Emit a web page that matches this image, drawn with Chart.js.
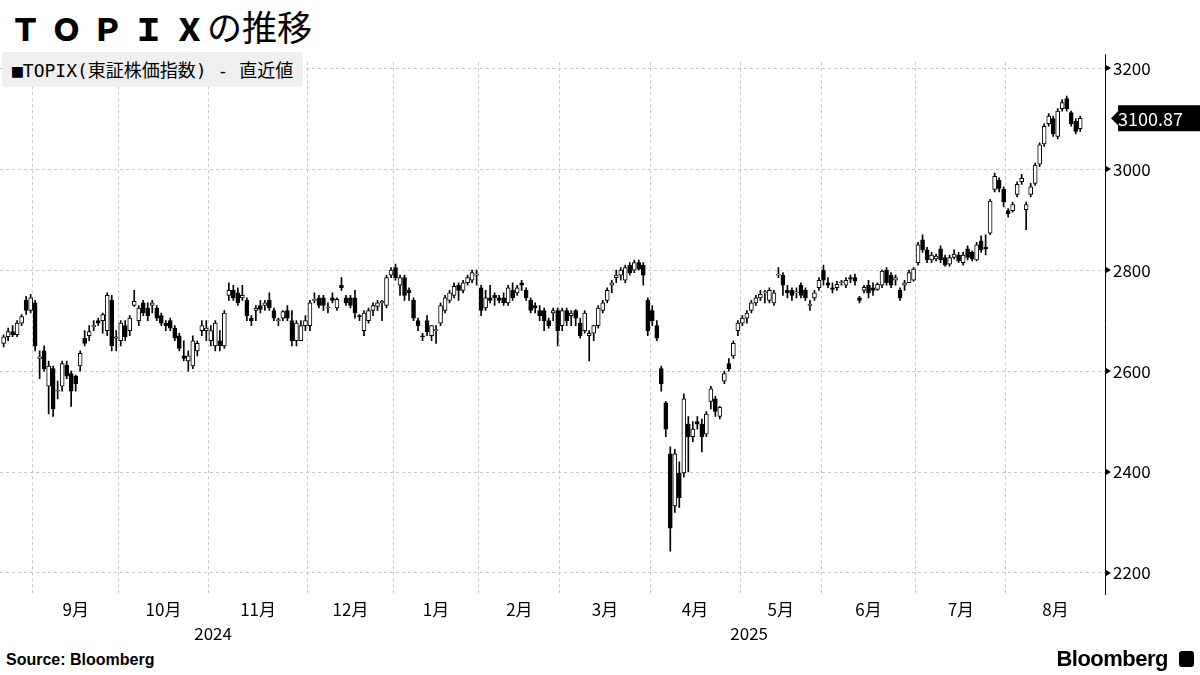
<!DOCTYPE html>
<html><head><meta charset="utf-8">
<script src="https://cdn.jsdelivr.net/npm/chart.js@4"></script>
<style>
body{margin:0;width:1200px;height:675px;background:#fff;font-family:"Noto Sans CJK JP","Noto Sans",sans-serif;overflow:hidden;position:relative}
#title{position:absolute;left:10px;top:0px;font-size:35px;color:#000;white-space:nowrap}
#title b{font-family:"DejaVu Sans","Noto Sans CJK JP";font-weight:900;letter-spacing:10px;font-size:31px}
#title span{font-weight:400;letter-spacing:0px;margin-left:-8px}
#legend{position:absolute;left:2px;top:52px;background:#efefef;border-radius:4px;padding:4px 10px 5px 10px;font-size:18px;color:#000;font-family:"DejaVu Sans Mono","Noto Sans CJK JP";}
#src{position:absolute;left:6px;top:651px;font-size:16px;font-weight:bold;font-family:"Liberation Sans",sans-serif}
#logo{position:absolute;right:32px;top:646px;font-size:22px;font-weight:bold;font-family:"Liberation Sans",sans-serif;letter-spacing:-0.5px}
#logoicon{position:absolute;right:6px;top:651px;width:15px;height:16px;background:#000;border-radius:3px}
#c{position:absolute;left:0;top:44px}
</style></head><body>
<div id="title"><b>ＴＯＰＩＸ</b><span>の推移</span></div>
<canvas id="c" width="1200" height="606"></canvas>
<div id="legend">■TOPIX(東証株価指数) - 直近値</div>
<div id="src">Source:  Bloomberg</div>
<div id="logo">Bloomberg</div><div id="logoicon"></div>
<script>
// [open, high, low, close] per trading day
const aug24=[[2655,2672,2648,2668],[2668,2685,2660,2678],[2678,2690,2668,2672],[2672,2700,2668,2695],[2695,2712,2690,2708],[2740,2748,2712,2720],[2720,2752,2715,2745]];
const sep24=[[2735,2740,2640,2650],[2625,2640,2585,2628],[2640,2650,2600,2605],[2570,2620,2515,2610],[2605,2610,2510,2525],[2560,2580,2545,2560],[2570,2620,2560,2615],[2612,2620,2585,2590],[2595,2600,2530,2560],[2590,2592,2560,2575],[2610,2640,2600,2635],[2665,2680,2650,2655],[2670,2690,2660,2678],[2688,2700,2680,2690],[2700,2705,2690,2695],[2700,2715,2675,2712],[2680,2755,2670,2750],[2740,2750,2640,2650],[2665,2680,2640,2668]];
const oct24=[[2660,2700,2650,2695],[2690,2700,2660,2668],[2680,2710,2670,2705],[2730,2760,2728,2738],[2700,2730,2690,2725],[2735,2740,2710,2715],[2725,2735,2700,2710],[2730,2740,2715,2735],[2725,2730,2700,2705],[2710,2715,2690,2695],[2695,2700,2680,2690],[2700,2705,2680,2685],[2685,2690,2660,2665],[2670,2675,2640,2645],[2630,2660,2620,2625],[2620,2640,2600,2630],[2610,2670,2605,2660],[2640,2660,2630,2655],[2680,2700,2670,2690],[2680,2700,2660,2685]];
const nov24=[[2660,2690,2650,2680],[2650,2700,2640,2695],[2660,2680,2640,2650],[2650,2720,2645,2715],[2750,2775,2740,2760],[2760,2770,2740,2745],[2755,2765,2730,2735],[2745,2770,2740,2750],[2740,2745,2700,2710],[2705,2710,2690,2700],[2720,2730,2700,2725],[2730,2740,2715,2722],[2730,2740,2720,2735],[2740,2755,2720,2725],[2720,2725,2700,2705],[2700,2705,2690,2702],[2705,2720,2700,2718],[2720,2730,2700,2705],[2700,2720,2650,2660],[2660,2700,2650,2695],[2660,2700,2660,2690],[2690,2710,2680,2700]];
const dec24=[[2690,2740,2680,2735],[2740,2755,2735,2740],[2745,2750,2725,2730],[2745,2750,2720,2730],[2725,2735,2715,2725],[2745,2755,2735,2740],[2725,2745,2720,2742],[2770,2785,2760,2765],[2745,2750,2730,2735],[2745,2750,2725,2730],[2745,2760,2705,2715],[2710,2712,2700,2708],[2680,2720,2670,2715],[2700,2725,2695,2720],[2720,2735,2710,2730],[2728,2740,2720,2735],[2735,2740,2700,2738],[2730,2790,2725,2785],[2790,2805,2785,2800]];
const jan25=[[2805,2812,2780,2785],[2770,2790,2750,2785],[2785,2790,2740,2750],[2760,2765,2740,2755],[2740,2745,2700,2705],[2700,2705,2680,2690],[2670,2675,2660,2668],[2700,2710,2670,2678],[2670,2690,2660,2690],[2680,2690,2655,2680],[2695,2735,2690,2730],[2720,2750,2715,2745],[2740,2760,2735,2755],[2750,2775,2745,2768],[2770,2775,2740,2760],[2760,2780,2755,2775],[2775,2790,2770,2785],[2780,2800,2775,2795],[2790,2800,2770,2790]];
const feb25=[[2765,2770,2710,2720],[2725,2760,2720,2745],[2745,2770,2735,2740],[2750,2755,2730,2745],[2745,2750,2735,2740],[2745,2755,2730,2735],[2735,2770,2730,2765],[2760,2775,2740,2745],[2755,2770,2750,2765],[2775,2780,2760,2770],[2760,2765,2740,2745],[2740,2745,2715,2720],[2730,2735,2715,2725],[2720,2730,2700,2710],[2720,2725,2680,2700],[2700,2705,2685,2690],[2715,2725,2700,2720],[2720,2725,2650,2680]];
const mar25=[[2690,2725,2680,2720],[2720,2725,2690,2700],[2710,2720,2690,2715],[2720,2722,2690,2705],[2695,2705,2665,2670],[2680,2720,2675,2715],[2670,2680,2620,2675],[2675,2690,2660,2690],[2690,2730,2685,2725],[2720,2740,2715,2735],[2740,2765,2735,2760],[2770,2780,2755,2775],[2785,2800,2775,2790],[2790,2805,2780,2800],[2780,2810,2775,2805],[2810,2815,2790,2795],[2800,2820,2795,2815],[2815,2820,2800,2802],[2810,2815,2770,2790],[2740,2745,2670,2680]];
const apr25=[[2720,2730,2690,2700],[2690,2700,2660,2665],[2605,2610,2560,2575],[2537,2540,2470,2485],[2436,2450,2243,2289],[2333,2445,2320,2436],[2398,2420,2330,2349],[2398,2555,2390,2545],[2495,2510,2400,2470],[2470,2500,2460,2485],[2500,2510,2485,2495],[2495,2505,2440,2470],[2475,2520,2470,2515],[2540,2570,2525,2565],[2545,2550,2510,2520],[2510,2530,2505,2528],[2580,2600,2575,2595],[2615,2625,2600,2605],[2630,2660,2625,2655],[2680,2700,2670,2695]];
const may25=[[2695,2710,2690,2705],[2705,2720,2695,2715],[2720,2740,2715,2735],[2735,2750,2730,2745],[2745,2760,2740,2752],[2755,2760,2735,2755],[2740,2765,2735,2760],[2735,2760,2730,2755],[2790,2805,2785,2790],[2790,2795,2750,2770],[2760,2770,2745,2755],[2760,2765,2740,2750],[2755,2765,2745,2755],[2770,2775,2745,2750],[2760,2765,2740,2745],[2730,2740,2720,2732],[2745,2760,2740,2755],[2765,2785,2760,2780]];
const jun25=[[2800,2810,2770,2780],[2775,2785,2765,2770],[2765,2775,2755,2762],[2765,2778,2760,2772],[2775,2780,2770,2775],[2770,2785,2765,2780],[2785,2790,2775,2782],[2785,2792,2770,2778],[2745,2748,2735,2740],[2760,2770,2755,2766],[2770,2780,2745,2755],[2765,2775,2750,2760],[2762,2775,2760,2772],[2770,2800,2765,2798],[2800,2805,2770,2775],[2790,2795,2765,2770],[2780,2790,2770,2785],[2760,2765,2740,2745],[2770,2780,2760,2775],[2775,2800,2775,2795],[2780,2805,2778,2802]];
const jul25=[[2815,2855,2810,2850],[2860,2870,2835,2840],[2840,2845,2815,2820],[2820,2835,2815,2830],[2822,2832,2818,2828],[2842,2848,2815,2820],[2825,2830,2808,2810],[2812,2830,2808,2825],[2825,2840,2822,2832],[2830,2835,2815,2818],[2815,2835,2810,2830],[2842,2848,2820,2825],[2835,2838,2818,2822],[2820,2855,2818,2850],[2858,2868,2835,2840],[2845,2870,2830,2842],[2873,2940,2870,2937],[2960,2992,2955,2986],[2978,2983,2955,2962],[2960,2965,2925,2935]];
const aug25=[[2918,2922,2905,2912],[2918,2935,2915,2930],[2950,2975,2945,2970],[2975,2990,2970,2982],[2920,2935,2880,2930],[2950,2972,2945,2965],[2972,3012,2968,3008],[3010,3052,3005,3048],[3050,3090,3045,3085],[3090,3110,3085,3105],[3100,3105,3065,3070],[3065,3120,3060,3115],[3120,3138,3115,3132],[3140,3145,3115,3120],[3112,3115,3085,3090],[3095,3100,3070,3075],[3080,3105,3075,3100.87]];
const months=[aug24,sep24,oct24,nov24,dec24,jan25,feb25,mar25,apr25,may25,jun25,jul25,aug25];
const monthLabels=["","9月","10月","11月","12月","1月","2月","3月","4月","5月","6月","7月","8月"];
const yTicks=[2200,2400,2600,2800,3000,3200];
const lastValue=3100.87;

const ohlc=months.flat();
const n=ohlc.length;
const starts=[];let acc=0;months.forEach(m=>{starts.push(acc);acc+=m.length;});
const xmax=n-1+5.5, xmin=-0.8;
const gridTicks=starts.slice(1).map(s=>s-0.5);
const ends=gridTicks.slice(1).concat([xmax]);
const labelTicks=gridTicks.map((g,i)=>(g+ends[i])/2);
const bodies=ohlc.map((d,i)=>({x:i,y:[d[0],d[3]]}));
const wicks=ohlc.map((d,i)=>({x:i,y:[d[2],d[1]]}));
const up=ohlc.map(d=>d[3]>=d[0]);

const extra={id:'extra',afterDraw(c){
 const ctx=c.ctx,x=c.scales.x,y=c.scales.y,a=c.chartArea;
 ctx.save();
 ctx.strokeStyle='#000';ctx.fillStyle='#000';ctx.lineWidth=1;ctx.setLineDash([]);
 ctx.beginPath();ctx.moveTo(a.right+0.5,a.top-8);ctx.lineTo(a.right+0.5,a.bottom);ctx.stroke();
 yTicks.forEach(v=>{const p=Math.round(y.getPixelForValue(v));
  ctx.beginPath();ctx.moveTo(a.right+1,p-3);ctx.lineTo(a.right+6,p);ctx.lineTo(a.right+1,p+3);ctx.closePath();ctx.fill();});
 ctx.font='17px "Noto Sans CJK JP"';ctx.textAlign='center';ctx.textBaseline='middle';
 const y1=(x.getPixelForValue(gridTicks[0])+x.getPixelForValue(gridTicks[4]))/2;
 const y2=(x.getPixelForValue(gridTicks[4])+x.getPixelForValue(xmax))/2;
 const yy=a.bottom+39;
 ctx.fillText('2024',y1,yy);ctx.fillText('2025',y2,yy);
 const py=y.getPixelForValue(lastValue),px=a.right+6;
 ctx.beginPath();ctx.moveTo(px,py);ctx.lineTo(px+7,py-7);ctx.lineTo(px+7,py+7);ctx.closePath();ctx.fill();
 ctx.fillRect(px+7,py-13,c.width-px-7,26);
 ctx.fillStyle='#fff';ctx.textAlign='left';ctx.font='18px "Noto Sans CJK JP"';
 ctx.fillText(lastValue.toFixed(2),px+7,py+1);
 ctx.restore();}};

new Chart(document.getElementById('c'),{
 type:'bar',
 data:{datasets:[
  {data:bodies,grouped:false,barThickness:4,backgroundColor:up.map(u=>u?'#fff':'#000'),borderColor:'#000',borderWidth:1,borderSkipped:false,minBarLength:1},
  {data:wicks,grouped:false,barThickness:1,backgroundColor:'#000',borderWidth:0}
 ]},
 plugins:[extra],
 options:{responsive:false,animation:false,devicePixelRatio:1,
  layout:{padding:{top:6,right:0,left:0,bottom:0}},
  plugins:{legend:{display:false},tooltip:{enabled:false}},
  scales:{
   x:{type:'linear',min:xmin,max:xmax,offset:false,
    afterBuildTicks:s=>{s.ticks=gridTicks.map(v=>({value:v}));},
    ticks:{display:false},
    grid:{offset:false,color:'#c8c8c8',lineWidth:1,drawTicks:false},border:{display:false,dash:[3,3]}},
   x2:{type:'linear',position:'bottom',min:xmin,max:xmax,offset:false,
    afterBuildTicks:s=>{s.ticks=labelTicks.map(v=>({value:v}));},
    ticks:{autoSkip:false,maxRotation:0,color:'#000',font:{size:17,family:'"Noto Sans CJK JP"'},padding:-4,
     callback:(v,i)=>monthLabels[i+1]},
    grid:{display:false,offset:false},border:{display:false},
    afterFit:s=>{s.height=55;}},
   y:{position:'right',min:2156.4,max:3211.9,
    afterBuildTicks:s=>{s.ticks=yTicks.map(v=>({value:v}));},
    ticks:{color:'#000',font:{size:17,family:'"Noto Sans CJK JP"'},padding:8,callback:v=>String(v)},
    grid:{color:'#c8c8c8',drawTicks:false},
    border:{display:false,dash:[3,3]},
    afterFit:s=>{s.width=95;}}
  }}
});
</script>
</body></html>
